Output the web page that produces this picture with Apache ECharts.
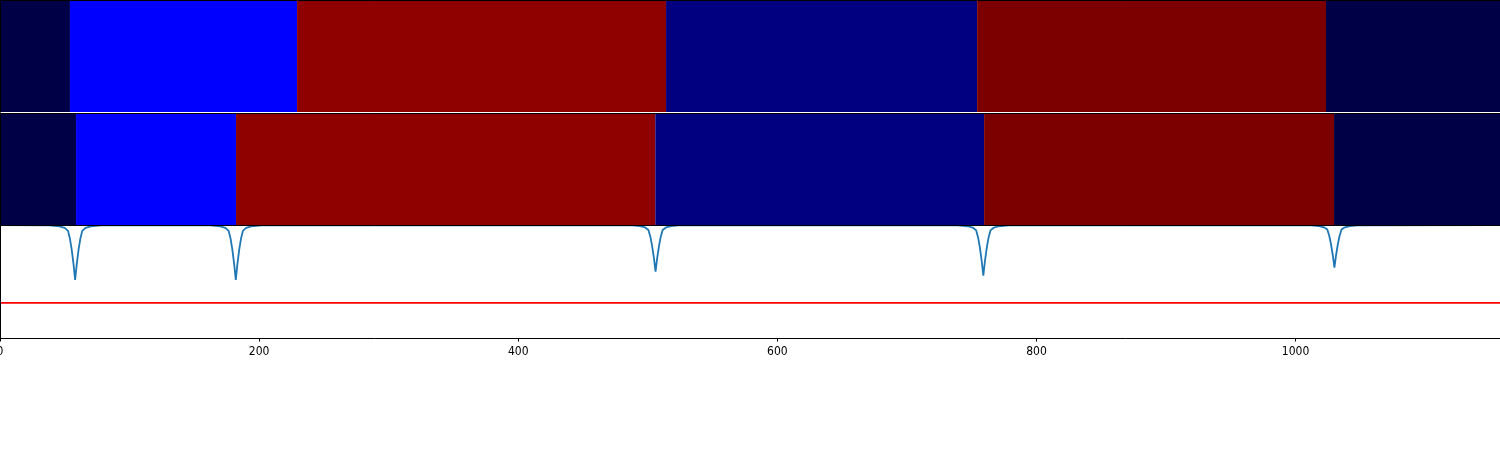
<!DOCTYPE html>
<html><head><meta charset="utf-8">
<script src="https://cdn.jsdelivr.net/npm/echarts@6/dist/echarts.min.js"></script>
<style>html,body{margin:0;padding:0;background:#fff}#c{width:1500px;height:450px}</style>
</head><body><div id="c"></div>
<script>
// ---- data ----
const xMax = 1157.8;
const tickValues = [0, 200, 400, 600, 800, 1000];
const bandColors = ['#000046', '#0000ff', '#8f0000', '#000080', '#7c0000', '#000046'];
const row1Bounds = [0, 54.0, 229.3, 514.1, 754.2, 1023.5, 1157.8];
const row2Bounds = [0, 58.7, 182.2, 505.8, 759.6, 1029.7, 1157.8];
const lineX = [0,
  38, 46, 50, 52.5, 54, 55.3, 56.8, 58, 59.2, 60.7, 62, 63.5, 66, 70, 78,
  162, 170, 174, 176.5, 178, 179.3, 180.8, 182, 183.2, 184.7, 186, 187.5, 190, 194, 202,
  486, 494, 498, 500.5, 502, 503.3, 504.8, 506, 507.2, 508.7, 510, 511.5, 514, 518, 526,
  739, 747, 751, 753.5, 755, 756.3, 757.8, 759, 760.2, 761.7, 763, 764.5, 767, 771, 779,
  1010, 1018, 1022, 1024.5, 1026, 1027.3, 1028.8, 1030, 1031.2, 1032.7, 1034, 1035.5, 1038, 1042, 1050,
  1157.8];
const lineY = [0,
  -0.003, -0.012, -0.026, -0.052, -0.122, -0.214, -0.351, -0.487, -0.351, -0.214, -0.122, -0.052, -0.026, -0.012, -0.003,
  -0.003, -0.012, -0.026, -0.052, -0.122, -0.214, -0.351, -0.487, -0.351, -0.214, -0.122, -0.052, -0.026, -0.012, -0.003,
  -0.002, -0.01, -0.022, -0.044, -0.103, -0.182, -0.297, -0.413, -0.297, -0.182, -0.103, -0.044, -0.022, -0.01, -0.002,
  -0.003, -0.011, -0.024, -0.048, -0.112, -0.198, -0.323, -0.449, -0.323, -0.198, -0.112, -0.048, -0.024, -0.011, -0.003,
  -0.002, -0.009, -0.02, -0.04, -0.095, -0.166, -0.272, -0.378, -0.272, -0.166, -0.095, -0.04, -0.02, -0.009, -0.002,
  0];
const redLineX = [0, 1157.8];
const redLineY = [-0.69, -0.69];

// ---- build ----
function bands(bounds) {
  const out = [];
  for (let i = 0; i < bounds.length - 1; i++) out.push([bounds[i], bounds[i + 1], i]);
  return out;
}
function renderBand(params, api) {
  const p0 = api.coord([api.value(0), 0]);
  const p1 = api.coord([api.value(1), 1]);
  return {
    type: 'rect',
    shape: { x: p0[0], y: p1[1], width: p1[0] - p0[0], height: p0[1] - p1[1] },
    style: { fill: bandColors[api.value(2)] }
  };
}
const blackLine = { show: true, onZero: false, lineStyle: { color: '#000', width: 1 } };
function frameX(grid, pos) {
  return { type: 'value', gridIndex: grid, position: pos, min: 0, max: xMax, z: 5,
    axisLine: blackLine, axisTick: { show: false }, axisLabel: { show: false }, splitLine: { show: false } };
}
function frameY(grid, min, max) {
  return { type: 'value', gridIndex: grid, min: min, max: max, z: 5,
    axisLine: blackLine, axisTick: { show: false }, axisLabel: { show: false }, splitLine: { show: false } };
}
const bottomX = {
  type: 'value', gridIndex: 2, position: 'bottom', min: 0, max: xMax, interval: 200, z: 5,
  axisLine: blackLine,
  axisTick: { show: true, length: 3.5, lineStyle: { color: '#000' } },
  axisLabel: { show: true, color: '#000', fontSize: 12, margin: 8, showMinLabel: true, showMaxLabel: false,
    fontFamily: 'Liberation Sans Narrow, DejaVu Sans Condensed, DejaVu Sans, sans-serif',
    formatter: v => (tickValues.indexOf(v) >= 0 ? String(v) : '') },
  splitLine: { show: false }
};

const chart = echarts.init(document.getElementById('c'), null, { renderer: 'canvas' });
chart.setOption({
  animation: false,
  backgroundColor: '#fff',
  grid: [
    { left: 0, right: 0, top: 0, height: 112, containLabel: false, outerBoundsMode: 'none' },
    { left: 0, right: 0, top: 113, height: 112, containLabel: false, outerBoundsMode: 'none' },
    { left: 0, right: 0, top: 225, height: 113, containLabel: false, outerBoundsMode: 'none' }
  ],
  xAxis: [frameX(0, 'top'), frameX(1, 'top'), frameX(2, 'top'), bottomX],
  yAxis: [frameY(0, 0, 1), frameY(1, 0, 1), frameY(2, -1, 0)],
  series: [
    { type: 'custom', xAxisIndex: 0, yAxisIndex: 0, z: 4, renderItem: renderBand, data: bands(row1Bounds) },
    { type: 'custom', xAxisIndex: 1, yAxisIndex: 1, z: 4, renderItem: renderBand, data: bands(row2Bounds) },
    { type: 'line', xAxisIndex: 3, yAxisIndex: 2, showSymbol: false, smooth: false, z: 3, clip: true,
      lineStyle: { color: '#1f77b4', width: 1.8 },
      data: lineX.map((x, i) => [x, lineY[i]]) },
    { type: 'line', xAxisIndex: 3, yAxisIndex: 2, showSymbol: false, z: 3,
      lineStyle: { color: '#ff0000', width: 1.8 },
      data: redLineX.map((x, i) => [x, redLineY[i]]) }
  ]
});
</script></body></html>
